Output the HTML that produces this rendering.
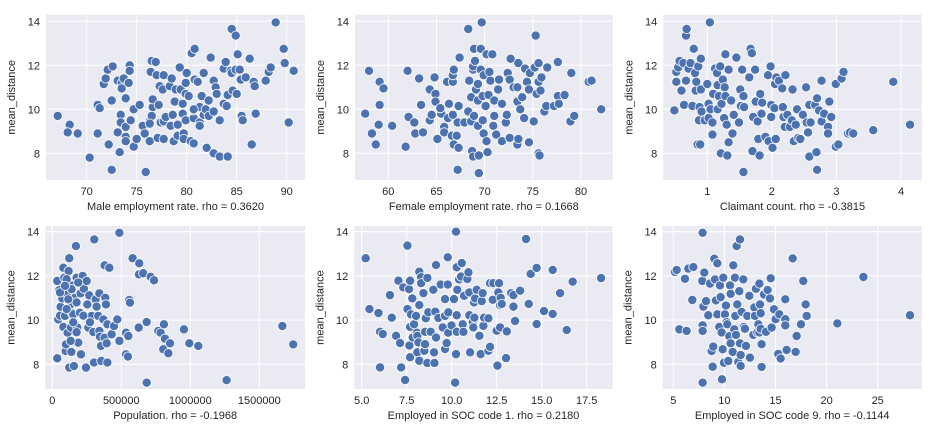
<!DOCTYPE html>
<html><head><meta charset="utf-8"><style>
html,body{margin:0;padding:0;background:#fff;}
svg{display:block;font-family:"Liberation Sans",sans-serif;}
</style></head><body>
<svg id="chart" width="936" height="432" viewBox="0 0 936 432" xmlns="http://www.w3.org/2000/svg"></svg>
<script>
const p1Points=[[67.1,9.7],[68.3,9.3],[68.1,8.95],[69.1,8.9],[70.3,7.8],[71.1,10.2],[71.3,10.05],[71.1,8.9],[72.2,8.4],[72.5,7.25],[72.5,10.4],[71.7,11.15],[71.9,11.4],[72.1,11.8],[72.6,11.95],[73.1,11.3],[73.5,11.2],[73.7,11.4],[73.5,10.95],[73.9,10.5],[74.2,11.2],[74.3,12.0],[74.3,11.75],[73.4,9.75],[73.4,9.4],[73.1,8.95],[73.3,8.05],[73.9,9.2],[73.9,8.75],[73.9,8.55],[74.4,9.5],[74.7,10.0],[74.7,8.3],[75.0,8.65],[75.3,10.2],[75.6,9.25],[75.8,8.9],[75.9,7.15],[76.3,8.55],[76.3,9.45],[76.5,9.7],[76.6,10.1],[76.6,10.45],[76.4,11.7],[76.5,12.2],[76.9,12.15],[77.0,11.55],[77.1,8.7],[77.2,10.2],[77.3,11.05],[77.4,9.4],[77.7,9.45],[77.7,8.65],[77.6,10.9],[77.7,11.55],[77.9,9.65],[78.3,11.05],[78.5,11.4],[78.4,9.25],[78.6,9.75],[78.7,8.55],[78.8,10.35],[78.9,10.9],[79.1,9.3],[79.1,8.8],[79.3,11.9],[79.4,10.9],[79.6,10.25],[79.6,9.8],[79.7,8.9],[79.7,8.65],[79.9,9.5],[79.9,11.2],[79.9,10.7],[80.0,11.65],[80.2,10.6],[80.4,8.55],[80.5,12.55],[80.7,8.45],[80.7,9.6],[80.8,12.75],[80.7,9.95],[80.8,11.35],[81.1,11.25],[81.3,10.1],[81.3,9.4],[81.3,9.25],[81.5,10.6],[81.7,11.65],[81.7,9.75],[81.9,10.0],[82.0,8.25],[82.2,10.4],[82.2,9.7],[82.4,12.35],[82.7,8.0],[82.7,9.9],[82.7,11.3],[82.9,11.0],[83.0,10.7],[83.3,9.5],[83.3,7.85],[83.7,11.85],[83.7,10.25],[83.9,12.15],[84.0,10.15],[84.1,7.85],[84.1,10.65],[84.4,11.75],[84.5,13.65],[84.6,10.85],[84.5,11.65],[84.9,13.35],[85.0,10.7],[85.1,12.5],[84.9,11.8],[85.3,11.8],[85.4,11.35],[85.5,9.7],[85.6,9.5],[85.9,11.45],[86.3,12.3],[86.5,8.4],[86.7,11.25],[86.8,11.05],[86.9,9.8],[87.9,11.3],[88.2,11.7],[88.4,11.9],[88.9,13.95],[89.7,12.75],[89.8,12.1],[90.2,9.4],[90.7,11.75],[80.7,10.0],[76.3,9.35]];
const p2Points=[[57.6,9.8],[58.0,11.75],[58.3,8.9],[58.7,8.4],[59.0,9.3],[59.1,11.25],[59.1,10.2],[59.5,10.95],[60.4,9.25],[61.8,8.3],[62.0,11.75],[62.1,9.65],[62.7,9.4],[62.8,8.9],[63.2,11.4],[63.4,10.2],[63.6,8.95],[64.3,10.9],[64.3,9.5],[64.5,9.75],[64.8,11.45],[64.9,10.7],[64.9,10.35],[65.1,8.65],[65.5,9.8],[65.4,10.05],[65.8,9.2],[65.8,8.95],[66.1,11.25],[66.2,9.6],[66.3,10.25],[66.6,8.8],[66.7,11.25],[66.7,11.55],[66.8,11.8],[66.7,9.75],[66.8,8.4],[67.1,8.8],[67.2,9.4],[67.2,7.25],[67.3,10.15],[67.3,8.25],[67.4,12.35],[67.9,9.4],[68.3,13.65],[68.4,11.3],[68.3,9.9],[68.6,10.55],[68.6,9.45],[68.7,8.1],[68.8,7.85],[68.8,11.8],[68.8,11.95],[68.9,9.7],[69.0,12.2],[68.9,12.75],[69.1,10.9],[69.3,10.4],[69.3,11.15],[69.3,9.25],[69.4,7.9],[69.4,7.1],[69.6,12.75],[69.6,11.8],[69.7,13.95],[69.8,10.6],[69.8,9.5],[69.9,11.55],[69.9,8.9],[70.1,10.15],[70.2,12.5],[70.2,8.55],[70.3,8.05],[70.4,10.65],[70.5,11.7],[70.6,11.3],[70.8,12.5],[71.0,10.4],[70.9,9.25],[71.0,9.7],[71.2,8.85],[71.4,10.9],[71.5,11.35],[71.8,8.55],[71.8,10.25],[72.2,9.4],[72.3,9.75],[72.4,11.65],[72.6,11.35],[72.6,8.7],[72.7,12.3],[73.0,11.0],[73.4,11.0],[73.4,10.35],[73.4,8.4],[73.5,8.65],[73.5,12.1],[73.7,10.0],[73.9,10.55],[74.1,9.6],[74.2,11.85],[74.4,11.25],[74.6,10.9],[74.6,8.5],[74.7,11.65],[75.1,9.45],[75.2,11.9],[75.3,13.35],[75.4,10.7],[75.6,12.1],[75.6,8.0],[75.7,7.9],[75.6,11.25],[75.8,10.85],[75.9,11.45],[76.2,9.9],[76.4,10.15],[76.5,11.9],[77.2,10.15],[77.6,12.15],[77.6,10.6],[77.7,10.25],[78.3,10.65],[78.9,9.45],[79.0,11.65],[79.3,9.7],[80.8,11.25],[81.1,11.3],[82.1,10.0]];
const p3Points=[[0.49,9.95],[0.52,11.25],[0.52,11.7],[0.55,11.9],[0.57,12.2],[0.6,10.85],[0.63,12.1],[0.64,10.2],[0.67,11.3],[0.67,13.35],[0.68,13.65],[0.71,11.85],[0.74,12.1],[0.77,10.15],[0.79,12.75],[0.81,11.65],[0.82,10.85],[0.83,11.25],[0.85,8.4],[0.86,11.95],[0.87,9.5],[0.88,10.1],[0.89,8.4],[0.9,12.3],[0.9,10.9],[0.91,9.9],[0.96,9.5],[1.0,11.15],[1.02,10.25],[1.02,9.6],[1.04,13.95],[1.05,10.0],[1.08,8.85],[1.08,9.4],[1.09,10.7],[1.12,11.85],[1.15,11.65],[1.16,11.1],[1.16,10.0],[1.18,10.6],[1.2,11.95],[1.21,8.0],[1.22,10.25],[1.24,11.35],[1.26,9.6],[1.27,11.0],[1.28,12.5],[1.28,10.6],[1.3,9.3],[1.31,7.9],[1.33,8.5],[1.33,11.8],[1.37,10.4],[1.39,8.9],[1.41,9.75],[1.45,12.35],[1.49,9.4],[1.51,10.9],[1.52,10.15],[1.54,11.8],[1.56,10.6],[1.56,7.15],[1.57,10.1],[1.65,11.45],[1.67,12.75],[1.69,12.55],[1.7,8.1],[1.71,9.65],[1.74,11.8],[1.75,10.35],[1.78,9.45],[1.79,8.65],[1.81,7.9],[1.82,10.7],[1.84,9.8],[1.85,10.3],[1.9,8.75],[1.94,11.55],[1.95,8.55],[1.98,11.95],[1.99,9.65],[1.99,10.2],[2.01,8.25],[2.04,10.05],[2.05,11.15],[2.06,8.65],[2.07,11.45],[2.11,11.3],[2.16,10.95],[2.17,10.1],[2.18,9.65],[2.2,9.2],[2.21,11.55],[2.24,9.75],[2.28,9.2],[2.31,9.5],[2.32,10.9],[2.34,8.55],[2.37,9.3],[2.39,10.0],[2.41,8.7],[2.44,8.65],[2.48,9.75],[2.53,11.0],[2.54,9.4],[2.56,8.95],[2.58,10.2],[2.58,7.85],[2.6,9.4],[2.67,10.2],[2.69,8.05],[2.7,10.5],[2.7,7.25],[2.73,9.95],[2.77,9.45],[2.77,11.3],[2.81,9.8],[2.87,9.2],[2.87,8.9],[2.89,10.35],[2.92,9.65],[2.99,8.3],[2.99,11.15],[3.03,8.4],[3.08,11.4],[3.11,11.7],[3.18,8.9],[3.21,8.95],[3.26,8.9],[3.57,9.05],[3.88,11.25],[4.14,9.3]];
const p4Points=[[36,8.27],[36,11.77],[51,11.36],[43,10.03],[60,10.6],[56,10.2],[72,10.98],[80,12.37],[80,9.69],[87,11.92],[92,10.19],[97,8.6],[99,8.9],[104,11.21],[111,9.43],[118,12.22],[123,12.8],[123,7.85],[133,10.71],[135,9.66],[138,8.56],[140,10.33],[147,11.57],[157,7.92],[152,10.26],[164,11.01],[171,13.35],[176,11.92],[181,9.66],[188,8.98],[200,10.33],[208,8.45],[205,11.21],[229,11.42],[244,7.85],[254,10.71],[261,9.66],[268,11.12],[285,10.19],[297,9.46],[302,8.08],[304,13.65],[314,10.94],[321,10.61],[333,10.19],[341,11.21],[341,9.51],[345,9.25],[353,8.83],[355,8.15],[370,10.03],[379,12.48],[379,9.2],[384,11.01],[389,10.71],[394,8.95],[399,8.08],[399,9.81],[413,12.37],[430,9.36],[447,9.73],[471,10.03],[486,9.06],[486,13.95],[534,9.43],[534,8.45],[548,8.35],[551,9.28],[558,10.91],[563,10.79],[582,12.8],[626,9.66],[628,12.07],[630,12.57],[659,12.12],[684,9.91],[684,7.17],[713,11.96],[737,11.8],[768,9.51],[785,9.43],[804,8.68],[809,9.81],[816,9.16],[841,8.5],[853,8.95],[954,9.58],[993,8.95],[1058,8.83],[1263,7.28],[1667,9.73],[1746,8.9],[104,10.5],[140,11.4],[56,11.25],[176,10.8],[225,10.2],[152,9.9],[220,12.0],[249,11.77],[104,11.85],[176,9.45],[92,11.55],[133,9.06],[273,9.9],[188,11.7],[116,10.94]];
const p5Points=[[5.22,12.8],[5.43,10.5],[5.93,10.32],[6.02,9.47],[6.02,7.86],[6.17,9.37],[6.57,11.13],[6.67,10.11],[6.91,9.29],[7.04,11.78],[7.13,8.96],[7.19,7.86],[7.31,11.48],[7.41,7.29],[7.54,13.37],[7.54,10.5],[7.63,11.4],[7.65,8.85],[7.69,11.78],[7.69,8.32],[7.69,9.69],[7.74,10.26],[7.81,10.98],[7.83,9.21],[7.91,9.81],[8.02,10.19],[8.06,9.43],[8.09,9.29],[8.09,8.54],[8.15,8.99],[8.2,10.68],[8.2,8.16],[8.2,12.19],[8.3,11.94],[8.3,11.67],[8.43,11.22],[8.48,8.61],[8.52,9.47],[8.52,8.91],[8.56,10.08],[8.65,8.06],[8.65,11.91],[8.7,10.35],[8.83,9.47],[8.98,11.37],[9.02,8.54],[9.04,8.06],[9.09,10.38],[9.13,12.49],[9.13,9.21],[9.26,10.1],[9.39,11.61],[9.5,9.67],[9.63,10.19],[9.63,10.95],[9.63,8.69],[9.72,8.96],[9.78,12.84],[9.78,11.61],[9.81,9.43],[9.81,10.35],[9.99,9.76],[10.13,10.95],[10.19,7.17],[10.24,8.46],[10.24,14.0],[10.28,9.47],[10.28,10.22],[10.28,12.39],[10.31,11.37],[10.41,11.84],[10.52,11.97],[10.56,12.58],[10.61,9.81],[10.65,9.47],[10.69,11.1],[10.87,11.86],[10.93,12.16],[10.98,10.22],[11.02,8.54],[10.98,11.25],[11.17,9.91],[11.2,9.67],[11.24,10.8],[11.26,10.11],[11.3,10.98],[11.39,11.37],[11.54,9.29],[11.61,8.46],[11.67,10.86],[11.72,11.22],[11.76,9.74],[11.8,10.11],[12.04,8.61],[12.04,10.08],[12.13,8.79],[12.13,11.67],[12.28,10.92],[12.31,11.67],[12.5,9.52],[12.54,7.94],[12.59,11.25],[12.63,11.67],[12.69,10.68],[12.69,9.67],[12.72,11.01],[12.78,10.73],[13.02,8.28],[13.06,9.49],[13.3,11.22],[13.43,11.13],[13.43,10.61],[13.52,9.96],[13.8,11.33],[14.13,13.67],[14.28,10.73],[14.39,12.09],[14.72,9.82],[14.72,12.36],[15.13,10.41],[15.61,12.27],[15.61,10.28],[16.02,11.22],[16.39,9.55],[16.72,11.74],[18.3,11.9]];
const p6Points=[[5.16,12.18],[5.33,12.27],[5.59,9.58],[6.14,11.87],[6.3,9.51],[6.47,12.33],[6.96,12.4],[6.86,10.91],[7.84,11.77],[7.87,13.95],[7.87,9.76],[7.87,9.51],[7.87,7.17],[7.94,10.61],[8.03,12.15],[8.2,10.86],[8.42,10.22],[8.59,11.65],[8.75,8.6],[8.85,7.89],[8.91,8.8],[9.01,12.78],[9.08,11.84],[9.17,10.89],[9.31,12.57],[9.31,10.26],[9.5,9.69],[9.57,11.57],[9.63,11.04],[9.73,9.44],[9.76,7.32],[9.83,8.68],[9.89,11.92],[9.96,8.07],[10.05,10.26],[10.15,10.66],[10.22,9.91],[10.28,9.81],[10.38,8.15],[10.48,9.27],[10.55,11.57],[10.61,8.95],[10.61,11.19],[10.81,8.56],[10.87,12.48],[10.97,9.58],[11.03,11.92],[11.07,10.19],[11.13,9.33],[11.2,13.35],[11.26,10.71],[11.36,8.11],[11.46,11.31],[11.52,13.65],[11.52,8.95],[11.59,8.42],[11.59,7.93],[11.69,10.37],[11.85,11.84],[11.91,9.69],[12.01,9.61],[12.11,8.83],[12.24,10.19],[12.44,11.1],[12.5,8.3],[12.83,9.33],[12.93,10.57],[12.99,10.19],[13.09,11.42],[13.22,9.44],[13.32,9.81],[13.42,11.65],[13.42,9.44],[13.48,10.71],[13.55,10.31],[13.55,9.61],[13.64,8.91],[13.64,7.88],[13.87,11.16],[14.07,9.47],[14.23,11.36],[14.46,10.98],[14.53,11.89],[14.62,9.66],[14.85,10.49],[15.01,10.04],[15.27,8.47],[15.37,10.26],[15.5,8.26],[15.96,10.94],[15.96,10.04],[15.96,9.76],[16.09,8.65],[16.68,12.79],[16.97,8.56],[17.07,9.28],[17.49,9.81],[17.72,11.77],[17.95,10.71],[18.05,10.19],[21.05,9.85],[23.6,11.95],[28.16,10.22]];
const yTicks=[8,10,12,14];
const p1XTicks=[70,75,80,85,90];
const p2XTicks=[60,65,70,75,80];
const p3XTicks=[1,2,3,4];
const p4XTicks=[0,500000,1000000,1500000];
const p5XTicks=[5,7.5,10,12.5,15,17.5];
const p6XTicks=[5,10,15,20,25];
const p5XLabels=["5.0","7.5","10.0","12.5","15.0","17.5"];
const xTitles=["Male employment rate. rho = 0.3620","Female employment rate. rho = 0.1668","Claimant count. rho = -0.3815","Population. rho = -0.1968","Employed in SOC code 1. rho = 0.2180","Employed in SOC code 9. rho = -0.1144"];
const NS="http://www.w3.org/2000/svg";
const svg=document.getElementById('chart');
function mk(tag,attrs,parent){const e=document.createElementNS(NS,tag);for(const k in attrs)e.setAttribute(k,attrs[k]);(parent||svg).appendChild(e);return e;}
const row1={top:14.7,bottom:180,y:v=>21.3+(14-v)*22};
const row2={top:226,bottom:389,y:v=>231.7+(14-v)*22.1};
const panels=[
 {row:row1,l:46,r:305,x:v=>86.7+(v-70)*10,ticks:p1XTicks,labels:null,pts:p1Points,sx:1},
 {row:row1,l:355,r:612.7,x:v=>388.3+(v-60)*9.633,ticks:p2XTicks,labels:null,pts:p2Points,sx:1},
 {row:row1,l:663.3,r:921.7,x:v=>707.3+(v-1)*64.57,ticks:p3XTicks,labels:null,pts:p3Points,sx:1},
 {row:row2,l:45.3,r:305,x:v=>52.3+v*0.000138,ticks:p4XTicks,labels:null,pts:p4Points,sx:1000},
 {row:row2,l:354.3,r:612.7,x:v=>361.7+(v-5)*18,ticks:p5XTicks,labels:p5XLabels,pts:p5Points,sx:1},
 {row:row2,l:662.7,r:921.7,x:v=>673.3+(v-5)*10.22,ticks:p6XTicks,labels:null,pts:p6Points,sx:1}
];
panels.forEach((p,i)=>{
 const g=mk('g',{});
 
 
 const t=p.row.top,b=p.row.bottom;
 const bg=mk('rect',{x:p.l,y:t,width:p.r-p.l,height:b-t,fill:'#eaeaf2'},g);
 
 
 yTicks.forEach(v=>{
  const yy=p.row.y(v);
  const gl=mk('line',{x1:p.l,x2:p.r,y1:yy,y2:yy,stroke:'#fff','stroke-width':1},g);
  
  
  const tl=mk('text',{x:p.l-6,y:yy+4,'text-anchor':'end','font-size':'11px',fill:'#262626'},g);
  
  
  tl.textContent=v;
 });
 p.ticks.forEach((v,j)=>{
  const xx=p.x(v);
  const gl=mk('line',{x1:xx,x2:xx,y1:t,y2:b,stroke:'#fff','stroke-width':1},g);
  
  
  const tl=mk('text',{x:xx,y:b+15,'text-anchor':'middle','font-size':'11px',fill:'#262626'},g);
  
  
  tl.textContent=p.labels?p.labels[j]:v;
 });
 p.pts.forEach(d=>{
  const c=mk('circle',{cx:p.x(d[0]*p.sx),cy:p.row.y(d[1]),r:4.6,fill:'#4c72b0',stroke:'#fff','stroke-width':0.8},g);
  
  
 });
 const xt=mk('text',{x:(p.l+p.r)/2,y:b+30,'text-anchor':'middle','font-size':'11px',fill:'#262626'},g);
 
 
 xt.textContent=xTitles[i];
 const ycx=p.l-31,ycy=(t+b)/2;
 const yt=mk('text',{x:ycx,y:ycy,'text-anchor':'middle','font-size':'11px',fill:'#262626',transform:'rotate(-90 '+ycx+' '+ycy+')'},g);
 
 
 yt.textContent='mean_distance';
});
</script>
</body></html>
